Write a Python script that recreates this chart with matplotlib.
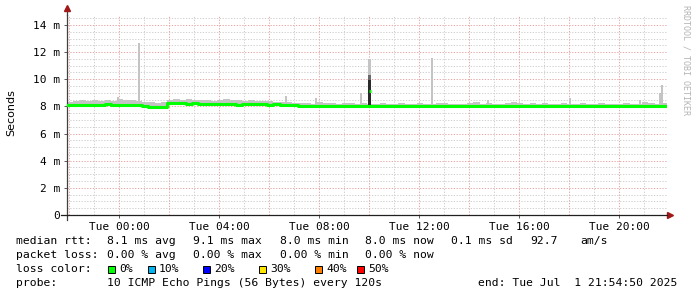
import numpy as np
import matplotlib
matplotlib.use("Agg")
import matplotlib.pyplot as plt
from matplotlib.patches import Rectangle

# hours since start of graph (Mon 21:54:50), 15 minute bins
median = [
    8.10, 8.08, 8.12, 8.10, 8.14, 8.12, 8.15, 8.12,
    8.08, 8.10, 8.13, 8.10, 8.05, 7.98, 7.96, 7.97,
    8.28, 8.25, 8.22, 8.18, 8.24, 8.20, 8.16, 8.18,
    8.15, 8.20, 8.17, 8.14, 8.18, 8.16, 8.20, 8.15,
    8.14, 8.17, 8.12, 8.10, 8.08, 8.05, 8.06, 8.04,
    8.05, 8.03, 8.06, 8.04, 8.02, 8.05, 8.03, 8.04,
    8.02, 8.04, 8.05, 8.03, 8.06, 8.04, 8.02, 8.05,
    8.04, 8.06, 8.03, 8.05, 8.04, 8.02, 8.05, 8.03,
    8.04, 8.06, 8.03, 8.04, 8.02, 8.05, 8.04, 8.03,
    8.05, 8.03, 8.06, 8.04, 8.02, 8.04, 8.05, 8.03,
    8.04, 8.02, 8.05, 8.03, 8.04, 8.06, 8.03, 8.04,
    8.02, 8.05, 8.03, 8.04, 8.05, 8.03, 8.02, 8.04,
]
smoke_hi = [
    8.35, 8.40, 8.45, 8.38, 8.50, 8.42, 8.48, 8.40,
    8.55, 8.45, 8.50, 8.40, 8.35, 8.30, 8.28, 8.32,
    8.50, 8.55, 8.45, 8.52, 8.48, 8.45, 8.50, 8.42,
    8.48, 8.55, 8.45, 8.50, 8.40, 8.45, 8.38, 8.42,
    8.40, 8.35, 8.30, 8.32, 8.25, 8.22, 8.25, 8.20,
    8.30, 8.22, 8.25, 8.20, 8.28, 8.22, 8.18, 8.25,
    8.20, 8.18, 8.22, 8.20, 8.18, 8.25, 8.20, 8.18,
    8.22, 8.18, 8.20, 8.25, 8.22, 8.18, 8.20, 8.18,
    8.22, 8.30, 8.20, 8.25, 8.20, 8.18, 8.25, 8.30,
    8.22, 8.20, 8.25, 8.18, 8.22, 8.20, 8.18, 8.22,
    8.20, 8.18, 8.22, 8.20, 8.18, 8.22, 8.20, 8.18,
    8.20, 8.22, 8.18, 8.20, 8.32, 8.28, 8.20, 8.25,
]

# single ping outliers (hour, top in ms, width in hours)
spike_h = [2.04, 2.88, 8.76, 9.96, 11.76, 12.12, 14.60, 16.84, 20.12, 22.92, 23.72, 23.80]
spike_top = [8.7, 12.7, 8.8, 8.6, 9.0, 11.5, 11.6, 8.5, 8.6, 8.5, 9.0, 9.6]
spike_w = [0.06, 0.06, 0.08, 0.08, 0.08, 0.12, 0.10, 0.08, 0.08, 0.08, 0.08, 0.10]

# the 08:05 event
event_h = 12.12
event_dark = 10.3
event_black = 9.95
event_median = 9.1

tick_h = [2.0861, 6.0861, 10.0861, 14.0861, 18.0861, 22.0861]
tick_lbl = ["Tue 00:00", "Tue 04:00", "Tue 08:00", "Tue 12:00", "Tue 16:00", "Tue 20:00"]

loss_lbl = ["0%", "10%", "20%", "30%", "40%", "50%"]
loss_col = ["#00ff00", "#00b4f0", "#0000ff", "#ffe600", "#ff8000", "#ff0000"]

mono = "DejaVu Sans Mono"
W, H = 697, 297

fig = plt.figure(figsize=(W / 100, H / 100), dpi=100)
ax = fig.add_axes([67 / W, (H - 215) / H, 600 / W, (215 - 14.8) / H])
ax.set_xlim(0, 24)
ax.set_ylim(0, 14.75)

# grid
for yv in np.arange(0.5, 14.75, 0.5):
    c = "#e8a4a4" if yv % 2 == 0 else "#cfcfcf"
    ax.axhline(yv, color=c, lw=0.7, ls=(0, (1.3, 1.6)), zorder=0)
for k in range(25):
    xv = 0.0861 + k
    if xv > 24:
        break
    c = "#e8a4a4" if k % 2 == 0 else "#cfcfcf"
    ax.axvline(xv, color=c, lw=0.7, ls=(0, (1.3, 1.6)), zorder=0)

edges = np.arange(len(median) + 1) / 4
ax.bar(edges[:-1], np.array(smoke_hi) - np.array(median), bottom=median,
       width=0.25, align="edge", color="#c4c4c4", lw=0, zorder=1)
ax.bar(spike_h, np.array(spike_top) - 8.0, bottom=8.0, width=spike_w,
       color="#c4c4c4", lw=0, zorder=1)
ax.bar([event_h], [event_dark - 8.0], bottom=8.0, width=0.12, color="#6a6a6a", lw=0, zorder=2)
ax.bar([event_h], [event_black - 8.0], bottom=8.0, width=0.12, color="#2a2a2a", lw=0, zorder=2)

ax.step(edges, median + [median[-1]], where="post", color="#00ff00", lw=2.2, zorder=3)
ax.plot([event_h - 0.05, event_h + 0.05], [event_median, event_median],
        color="#00ff00", lw=2.2, zorder=4, solid_capstyle="butt")

for s in ["top", "right"]:
    ax.spines[s].set_visible(False)
ax.spines["left"].set_color("#404040")
ax.spines["bottom"].set_color("#202020")
ax.spines["left"].set_linewidth(0.9)
ax.spines["bottom"].set_linewidth(0.9)
ax.plot([0, 0], [14.75, 15.1], color="#404040", lw=0.9, clip_on=False)
ax.plot([0, 0], [0, -0.35], color="#404040", lw=0.9, clip_on=False)
ax.plot([0], [15.25], marker="^", color="#a01818", ms=4, clip_on=False)
ax.plot([-0.25, 0], [0, 0], color="#202020", lw=0.9, clip_on=False)
ax.plot([24, 24.1], [0, 0], color="#202020", lw=0.9, clip_on=False)
ax.plot([24.12], [0], marker=">", color="#a01818", ms=4, clip_on=False)

ax.set_yticks(range(0, 15, 2))
ax.set_yticklabels(["0"] + [f"{v} m" for v in range(2, 15, 2)])
ax.set_xticks(tick_h)
ax.set_xticklabels(tick_lbl)
ax.tick_params(axis="both", length=2, width=0.6, color="#404040",
               labelsize=8, pad=3)
for lbl in ax.get_xticklabels() + ax.get_yticklabels():
    lbl.set_family(mono)

fig.text(11 / W, 1 - 113 / H, "Seconds", rotation=90, ha="center", va="center",
         fontsize=8, family="DejaVu Sans")
fig.text(686 / W, 1 - 60 / H, "RRDTOOL / TOBI OETIKER", rotation=270,
         ha="center", va="center", fontsize=6, family=mono, color="#b4b4b4")


def txt(x, y, s):
    fig.text(x / W, 1 - y / H, s, ha="left", va="center", fontsize=8.2, family=mono)


txt(16, 241, "median rtt:")
txt(107, 241, "8.1 ms avg")
txt(193, 241, "9.1 ms max")
txt(280, 241, "8.0 ms min")
txt(365, 241, "8.0 ms now")
txt(451, 241, "0.1 ms sd")
txt(530, 241, "92.7")
txt(580, 241, "am/s")

txt(16, 255, "packet loss:")
txt(107, 255, "0.00 % avg")
txt(193, 255, "0.00 % max")
txt(280, 255, "0.00 % min")
txt(365, 255, "0.00 % now")

txt(16, 269, "loss color:")
sq_x = [108, 148, 203, 259, 315, 357]
for i in range(6):
    fig.add_artist(Rectangle((sq_x[i] / W, 1 - 273 / H), 7 / W, 7 / H,
                             transform=fig.transFigure, facecolor=loss_col[i],
                             edgecolor="black", lw=0.7))
    txt(sq_x[i] + 11, 269, loss_lbl[i])

txt(16, 283, "probe:")
txt(107, 283, "10 ICMP Echo Pings (56 Bytes) every 120s")
txt(478, 283, "end: Tue Jul  1 21:54:50 2025")

fig.savefig("out.png", dpi=100)
